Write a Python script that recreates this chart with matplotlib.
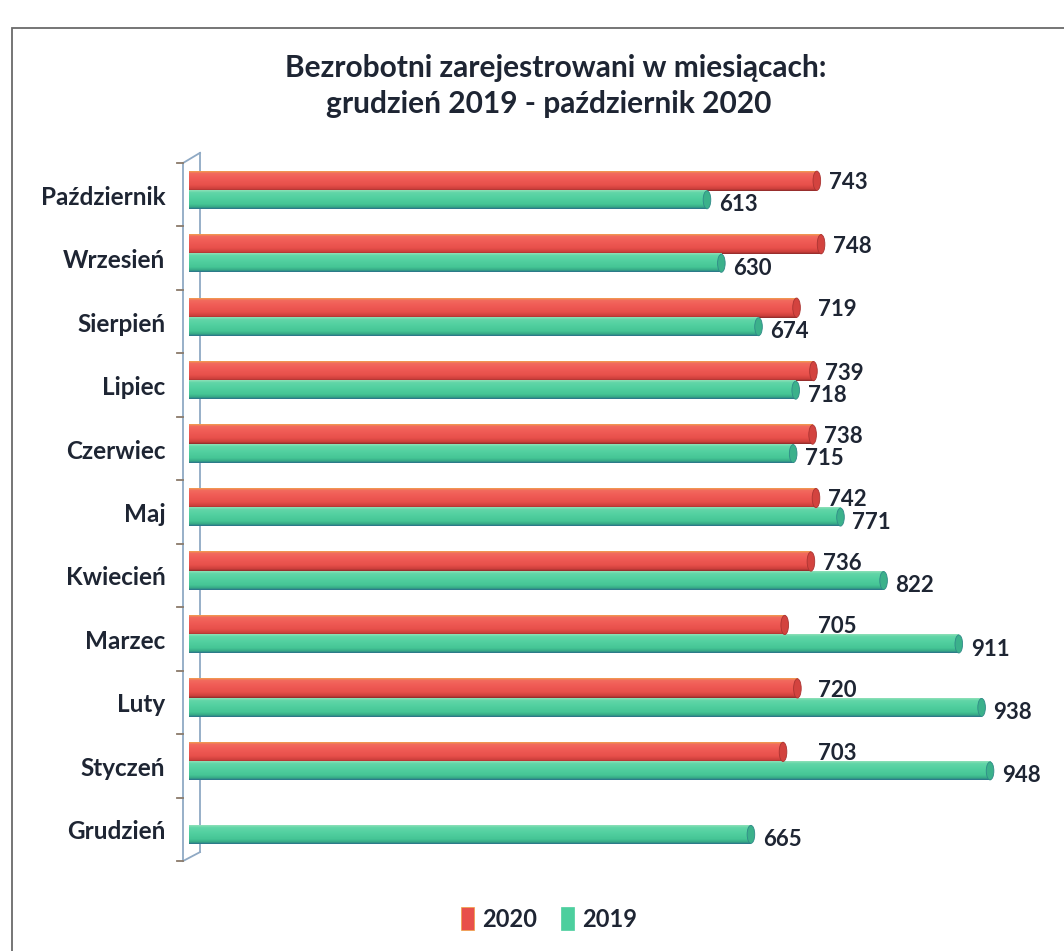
import numpy as np
import matplotlib
matplotlib.use("Agg")
import matplotlib.pyplot as plt
from matplotlib.colors import LinearSegmentedColormap
from matplotlib.patches import Ellipse, Patch, Rectangle
from matplotlib.lines import Line2D

plt.rcParams['font.family'] = ['Lato', 'DejaVu Sans']
plt.rcParams['font.weight'] = 'bold'

# ---------------------------------------------------------
# Data (bottom -> top)
# ---------------------------------------------------------
months = ["Grudzień", "Styczeń", "Luty", "Marzec", "Kwiecień", "Maj",
          "Czerwiec", "Lipiec", "Sierpień", "Wrzesień", "Październik"]
values_2020 = [np.nan, 703, 720, 705, 736, 742, 738, 739, 719, 748, 743]
values_2019 = [665, 948, 938, 911, 822, 771, 715, 718, 674, 630, 613]

title_line1 = "Bezrobotni zarejestrowani w miesiącach:"
title_line2 = "grudzień 2019 - październik 2020"

W, H = 1064, 951
TXT = '#1e2533'

# gradients: 0 = top edge of the cylinder, 1 = bottom edge
red_cmap = LinearSegmentedColormap.from_list(
    'red_cyl', [(0.0, '#f0a050'), (0.1, '#f26a5e'), (0.35, '#f05c56'),
                (0.7, '#e8504b'), (0.9, '#cc3f3b'), (1.0, '#8c2a2a')])
green_cmap = LinearSegmentedColormap.from_list(
    'green_cyl', [(0.0, '#8fe0b8'), (0.12, '#62d6a8'), (0.4, '#52d0a0'),
                  (0.75, '#45c595'), (0.9, '#36a886'), (1.0, '#2a6f8a')])


def px(x, y):
    # pixel coords (from top-left) -> figure fraction
    return x / W, 1 - y / H


fig = plt.figure(figsize=(W / 100, H / 100), dpi=100)
ax = fig.add_axes([189 / W, (H - 861) / H, 845 / W, 698 / H])
ax.set_xlim(0, 1000)
ax.set_ylim(-0.5, 10.5)
ax.axis('off')

cap_w = 9


def cylinder(val, yc, cmap, h):
    y0, y1 = yc - h / 2, yc + h / 2
    grad = np.linspace(0, 1, 64).reshape(-1, 1)
    ax.imshow(grad, cmap=cmap, aspect='auto', origin='upper',
              extent=[0, val, y0, y1], zorder=2, interpolation='bilinear')
    ax.add_patch(Ellipse((val, yc), cap_w, h * 0.98,
                         facecolor=cmap(0.85), edgecolor=cmap(0.95),
                         lw=0.6, zorder=3))


for i, (v20, v19) in enumerate(zip(values_2020, values_2019)):
    if not np.isnan(v20):
        yc = i + 0.22
        cylinder(v20, yc, red_cmap, 0.31)
        ax.text(max(v20, 730) + 14, yc - 0.03, f"{int(v20)}", ha='left',
                va='center', fontsize=16, color=TXT, fontweight='bold', zorder=5)
    yc = i - 0.08
    cylinder(v19, yc, green_cmap, 0.29)
    ax.text(v19 + 14, yc - 0.08, f"{int(v19)}", ha='left',
            va='center', fontsize=16, color=TXT, fontweight='bold', zorder=5)

# category labels
for i, m in enumerate(months):
    ax.text(-28, i - 0.04, m, ha='right', va='center', fontsize=17.5,
            color=TXT, fontweight='bold', clip_on=False)

# 3D wall of the category axis
wall = '#8fa9c4'
front_x, back_x = -7, 13
ax.add_line(Line2D([front_x, front_x], [-0.5, 10.5], color=wall, lw=1.3, clip_on=False))
ax.add_line(Line2D([back_x, back_x], [-0.36, 10.66], color=wall, lw=1.3, clip_on=False, zorder=1))
ax.add_line(Line2D([front_x, back_x], [10.5, 10.66], color=wall, lw=1.3, clip_on=False))
ax.add_line(Line2D([front_x, back_x], [-0.5, -0.36], color=wall, lw=1.3, clip_on=False))
for b in np.arange(-0.5, 11, 1.0):
    ax.add_line(Line2D([front_x - 7, front_x], [b, b], color='#8a7a6a', lw=1.3, clip_on=False))

# title
fig.text(*px(556, 68), title_line1, ha='center', va='center', fontsize=21.5,
         color=TXT, fontweight='bold')
fig.text(*px(549, 104), title_line2, ha='center', va='center', fontsize=21.5,
         color=TXT, fontweight='bold')

# legend
handles = [Patch(facecolor='#e8504b', edgecolor='#f0a040', lw=0.5),
           Patch(facecolor='#4ccf9e', edgecolor='#4ccf9e', lw=0.5)]
fig.legend(handles, ['2020', '2019'], loc='center', bbox_to_anchor=px(549, 919),
           ncol=2, frameon=False, handlelength=0.55, handleheight=1.1,
           handletextpad=0.35, columnspacing=1.0,
           prop={'weight': 'bold', 'size': 17})
for t in fig.legends[0].get_texts():
    t.set_color(TXT)

# outer frame
x0, y0 = px(12, 28)
fig.add_artist(Rectangle((x0, -0.05), 1.2, y0 + 0.05, transform=fig.transFigure,
                         fill=False, edgecolor='#6a6a6a', lw=1.3))

fig.savefig("out.png", dpi=100)
